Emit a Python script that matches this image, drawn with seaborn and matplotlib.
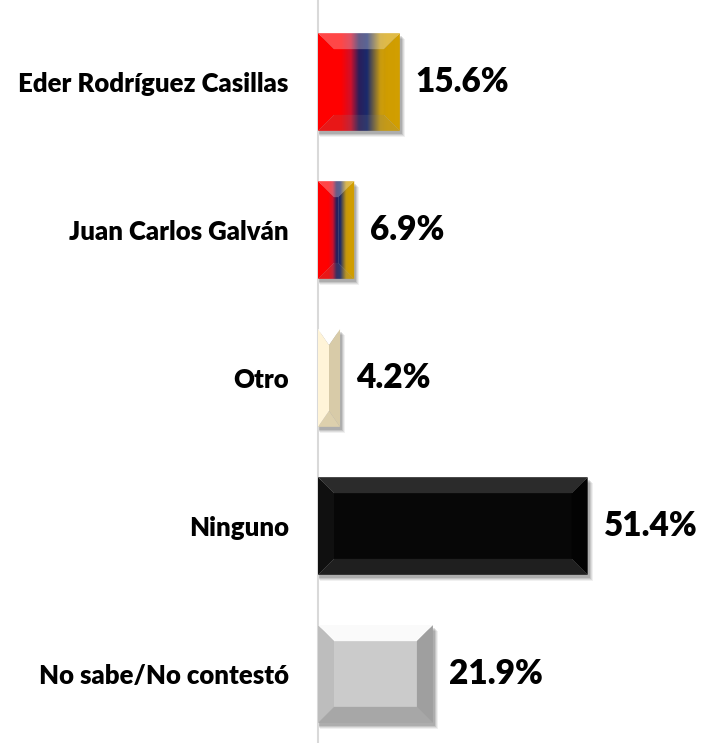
import numpy as np
import pandas as pd
import matplotlib
matplotlib.use("Agg")
import matplotlib.pyplot as plt
import seaborn as sns
from matplotlib.patches import Polygon, Rectangle
from matplotlib.colors import to_rgb

# ---- data ----
categories = ["Eder Rodríguez Casillas", "Juan Carlos Galván", "Otro",
              "Ninguno", "No sabe/No contestó"]
values = [15.6, 6.9, 4.2, 51.4, 21.9]
value_labels = ["15.6%", "6.9%", "4.2%", "51.4%", "21.9%"]

# ---- styles ----
flag_stops = [(0.0, "#ff0000"), (0.28, "#ff0000"), (0.40, "#d0102a"),
              (0.50, "#2a1e5a"), (0.60, "#1a2a6c"), (0.76, "#c89a10"),
              (0.84, "#d4a000"), (1.0, "#d6a200")]
bar_styles = [
    dict(stops=flag_stops,
         facets=dict(top=("white", 0.28), bottom=("#808080", 0.18),
                     left=("white", 0.0), right=("black", 0.02))),
    dict(stops=flag_stops,
         facets=dict(top=("white", 0.28), bottom=("#808080", 0.18),
                     left=("white", 0.0), right=("black", 0.02))),
    dict(stops=[(0, "#fff2d2"), (1, "#fff2d2")],
         facets=dict(top="#ffffff", bottom="#ddd0ad", left="#fff4d8",
                     right="#d8cba8"), center="#fff2d2"),
    dict(stops=[(0, "#070707"), (1, "#070707")],
         facets=dict(top="#2b2b2b", bottom="#1f1f1f", left="#101010",
                     right="#030303"), center="#070707"),
    dict(stops=[(0, "#cbcbcb"), (1, "#cbcbcb")],
         facets=dict(top="#fafafa", bottom="#a7a7a7", left="#bdbdbd",
                     right="#9f9f9f"), center="#cbcbcb"),
]

W, H, DPI = 701, 743, 100
AX_LEFT_PX = 318
XMAX = 73.0
ROW_PX = 148.0
FIRST_CENTER_PX = 82.0

sns.set_theme(style="white")
plt.rcParams['font.family'] = ['Lato', 'DejaVu Sans']

fig = plt.figure(figsize=(W / DPI, H / DPI), dpi=DPI)
ax = fig.add_axes([AX_LEFT_PX / W, 0, (W - AX_LEFT_PX) / W, 1.0])

df = pd.DataFrame({"cat": categories, "val": values})
sns.barplot(data=df, y="cat", x="val", orient="h", width=0.66, ax=ax,
            color="white", saturation=1)

ytop = -FIRST_CENTER_PX / ROW_PX
ybot = (H - FIRST_CENTER_PX) / ROW_PX
ax.set_xlim(0, XMAX)
ax.set_ylim(ybot, ytop)

ppx = (W - AX_LEFT_PX) / XMAX   # px per x unit
ppy = ROW_PX                    # px per y unit


def gradient_colors(stops, n=256):
    t = np.linspace(0, 1, n)
    pos = np.array([s[0] for s in stops])
    cols = np.array([to_rgb(s[1]) for s in stops])
    return np.stack([np.interp(t, pos, cols[:, k]) for k in range(3)], axis=1)


def mix(cols, spec):
    c, a = spec
    return cols * (1 - a) + np.array(to_rgb(c)) * a


BEVEL = 16.0
for i, patch in enumerate(ax.patches):
    x0 = patch.get_x()
    w = patch.get_width()
    y0 = patch.get_y()
    h = patch.get_height()
    x1, y1 = x0 + w, y0 + h
    patch.set_facecolor("none")
    patch.set_edgecolor("none")
    st = bar_styles[i]

    # soft drop shadow
    for k, (dx, dy, al) in enumerate([(5, 6, 0.06), (4, 5, 0.08), (3, 4, 0.10), (2, 3, 0.12)]):
        ax.add_patch(Rectangle((x0 + dx / ppx * 0.3, y0 + dy / ppy), w + dx / ppx * 0.7, h,
                               facecolor="black", edgecolor="none", alpha=al, zorder=1))

    bx = min(BEVEL / ppx, w / 2)
    by = min(BEVEL / ppy, h / 2)
    ix0, ix1, iy0, iy1 = x0 + bx, x1 - bx, y0 + by, y1 - by
    polys = dict(
        center=[(ix0, iy0), (ix1, iy0), (ix1, iy1), (ix0, iy1)],
        top=[(x0, y0), (x1, y0), (ix1, iy0), (ix0, iy0)],
        bottom=[(x0, y1), (x1, y1), (ix1, iy1), (ix0, iy1)],
        left=[(x0, y0), (ix0, iy0), (ix0, iy1), (x0, y1)],
        right=[(x1, y0), (ix1, iy0), (ix1, iy1), (x1, y1)],
    )
    base = gradient_colors(st["stops"])
    for name in ["center", "top", "bottom", "left", "right"]:
        poly = Polygon(polys[name], closed=True, facecolor="none",
                       edgecolor="none", transform=ax.transData)
        ax.add_patch(poly)
        spec = st["facets"].get(name) if name != "center" else st.get("center")
        if isinstance(spec, str):
            poly.set_facecolor(spec)
            poly.set_zorder(3)
        else:
            cols = base if spec is None else mix(base, spec)
            img = ax.imshow(cols[np.newaxis, :, :], extent=(x0, x1, y1, y0),
                            aspect="auto", interpolation="bilinear", zorder=3)
            img.set_clip_path(poly)

    ax.text(x1 + 16 / ppx, y0 + h / 2, value_labels[i], va="center",
            ha="left", fontsize=24, fontweight="heavy", color="black", zorder=5)

ax.set_xlim(0, XMAX)
ax.set_ylim(ybot, ytop)
ax.set_xlabel("")
ax.set_ylabel("")
ax.set_xticks([])
ax.tick_params(axis="y", length=0, pad=21)
for lab in ax.get_yticklabels():
    lab.set_fontweight("heavy")
    lab.set_fontsize(18.5)
    lab.set_color("black")
for s in ["top", "right", "bottom"]:
    ax.spines[s].set_visible(False)
ax.spines["left"].set_color("#d9d9d9")
ax.spines["left"].set_linewidth(1.5)
ax.spines["left"].set_zorder(0)

fig.savefig("out.png", dpi=DPI, facecolor="white")
